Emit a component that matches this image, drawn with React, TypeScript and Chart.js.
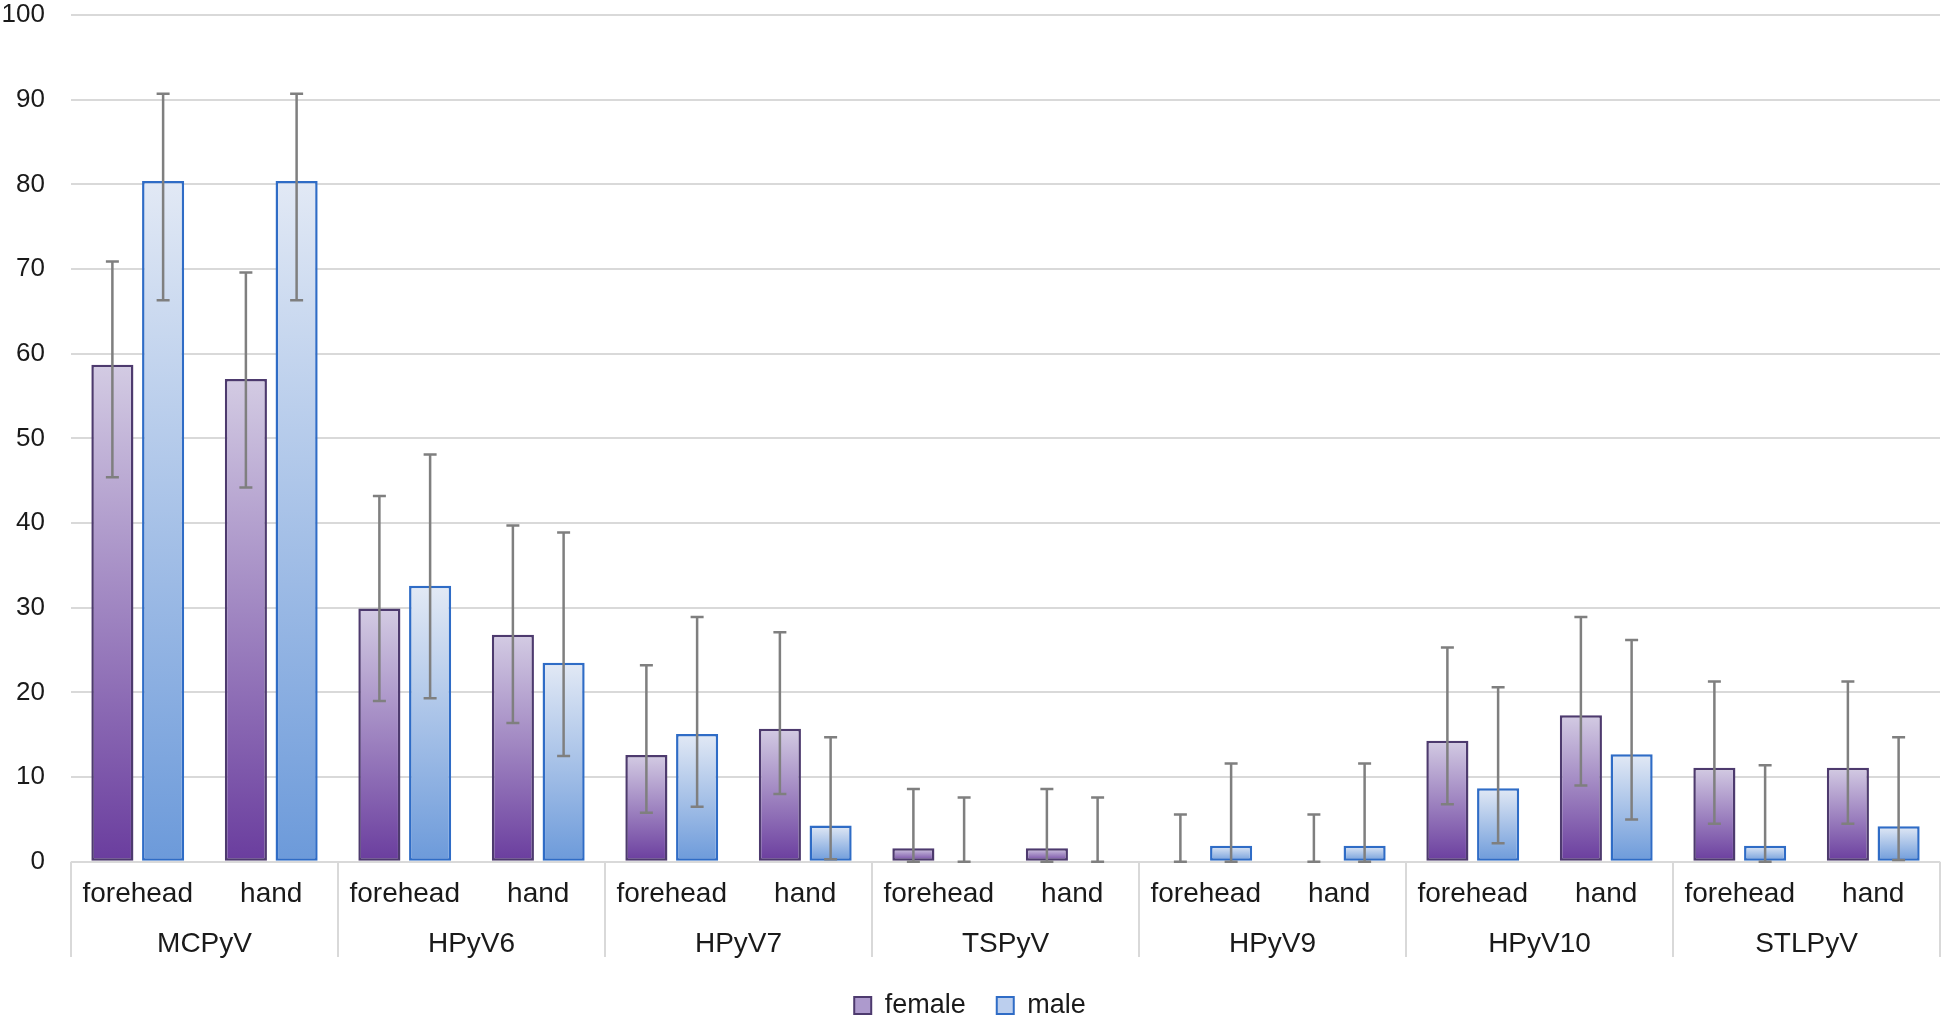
import { useEffect, useRef } from "react";
import { Chart, registerables } from "chart.js";

Chart.register(...registerables);

const groups = ["MCPyV", "HPyV6", "HPyV7", "TSPyV", "HPyV9", "HPyV10", "STLPyV"];
const sites = ["forehead", "hand"];
const categories = groups.flatMap(() => sites);

const female = [58.7, 57.0, 29.9, 26.8, 12.6, 15.7, 1.6, 1.6, 0, 0, 14.3, 17.3, 11.1, 11.1];
const femaleLow = [45.4, 44.2, 19.0, 16.4, 5.8, 8.0, 0, 0, 0, 0, 6.8, 9.0, 4.5, 4.5];
const femaleHigh = [70.9, 69.6, 43.2, 39.7, 23.2, 27.1, 8.6, 8.6, 5.6, 5.6, 25.3, 28.9, 21.3, 21.3];

const male = [80.4, 80.4, 32.6, 23.5, 15.1, 4.3, 0, 0, 1.9, 1.9, 8.7, 12.7, 1.9, 4.2];
const maleLow = [66.3, 66.3, 19.3, 12.5, 6.5, 0.3, 0, 0, 0, 0, 2.2, 5.0, 0, 0.2];
const maleHigh = [90.7, 90.7, 48.1, 38.9, 28.9, 14.7, 7.6, 7.6, 11.6, 11.6, 20.6, 26.2, 11.4, 14.7];

const errorRanges = [
    [femaleLow, femaleHigh],
    [maleLow, maleHigh],
];

const legendFills = ["#ad9acd", "#bccfee"];

// gradient per bar, dark at the base, light at the top
const barFill = (dark: string, light: string, flat: string) => (ctx: any) => {
    if (ctx.type !== "data") return flat;
    const chart = ctx.chart;
    const y = chart.scales.y;
    if (!y || !chart.chartArea) return flat;
    const y0 = y.getPixelForValue(0);
    const y1 = y.getPixelForValue(ctx.raw as number);
    if (!Number.isFinite(y0) || !Number.isFinite(y1)) return flat;
    if (Math.abs(y0 - y1) < 1) return dark;
    const g = chart.ctx.createLinearGradient(0, y0, 0, y1);
    g.addColorStop(0, dark);
    g.addColorStop(1, light);
    return g;
};

const barBorder = (ctx: any) => (ctx.type === "data" && ctx.raw === 0 ? 0 : 2.5);

const errorBars = {
    id: "errorBars",
    afterDatasetsDraw(chart: any) {
        const { ctx } = chart;
        const y = chart.scales.y;
        ctx.save();
        ctx.strokeStyle = "#7f7f7f";
        ctx.lineWidth = 2.5;
        errorRanges.forEach(([lows, highs], di) => {
            const meta = chart.getDatasetMeta(di);
            meta.data.forEach((bar: any, i: number) => {
                const x = bar.x;
                const top = y.getPixelForValue(highs[i]);
                const bot = y.getPixelForValue(lows[i]);
                ctx.beginPath();
                ctx.moveTo(x, top);
                ctx.lineTo(x, bot);
                ctx.moveTo(x - 6.5, top);
                ctx.lineTo(x + 6.5, top);
                ctx.moveTo(x - 6.5, bot);
                ctx.lineTo(x + 6.5, bot);
                ctx.stroke();
            });
        });
        ctx.restore();
    },
};

// vertical separators between the virus groups under the axis
const groupSeparators = {
    id: "groupSeparators",
    afterDraw(chart: any) {
        const { ctx, chartArea } = chart;
        const x2 = chart.scales.x2;
        const n = groups.length;
        ctx.save();
        ctx.strokeStyle = "#d9d9d9";
        ctx.lineWidth = 2;
        for (let k = 0; k <= n; k++) {
            const x = k === 0 ? x2.left : k === n ? x2.right : (x2.getPixelForValue(k - 1) + x2.getPixelForValue(k)) / 2;
            ctx.beginPath();
            ctx.moveTo(x, chartArea.bottom);
            ctx.lineTo(x, x2.bottom - 4);
            ctx.stroke();
        }
        ctx.restore();
    },
};

const App = () => {
    const chartRef = useRef<HTMLCanvasElement | null>(null);
    const chartInstanceRef = useRef<Chart | null>(null);

    useEffect(() => {
        document.body.style.margin = "0";
        if (!chartRef.current) return;
        const ctx = chartRef.current.getContext("2d");
        if (!ctx) return;
        if (chartInstanceRef.current) chartInstanceRef.current.destroy();

        Chart.defaults.font.family = "'Liberation Sans', Arial, sans-serif";
        Chart.defaults.font.size = 26;
        Chart.defaults.color = "#1a1a1a";

        chartInstanceRef.current = new Chart(ctx, {
            type: "bar",
            data: {
                labels: categories,
                datasets: [
                    {
                        label: "female",
                        data: female,
                        backgroundColor: barFill("#6a3d9e", "#d3cbe3", legendFills[0]),
                        borderColor: "#4d3a6e",
                        borderWidth: barBorder,
                        borderSkipped: false,
                        categoryPercentage: 0.76,
                        barPercentage: 0.83,
                    },
                    {
                        label: "male",
                        data: male,
                        backgroundColor: barFill("#6c9ada", "#e2e9f5", legendFills[1]),
                        borderColor: "#2f6cc6",
                        borderWidth: barBorder,
                        borderSkipped: false,
                        categoryPercentage: 0.76,
                        barPercentage: 0.83,
                    },
                ],
            },
            options: {
                responsive: true,
                maintainAspectRatio: false,
                animation: false,
                layout: {
                    padding: { top: 0, right: 13, bottom: -5, left: 0 },
                },
                plugins: {
                    legend: {
                        position: "bottom",
                        labels: {
                            boxWidth: 17,
                            boxHeight: 17,
                            padding: 31,
                            font: { size: 27 },
                            color: "#1a1a1a",
                            generateLabels: (chart: any) => {
                                const items = Chart.defaults.plugins.legend.labels.generateLabels(chart);
                                items.forEach((item: any, i: number) => {
                                    item.fillStyle = legendFills[i];
                                    item.lineWidth = 2;
                                });
                                return items;
                            },
                        },
                    },
                    tooltip: { enabled: false },
                },
                scales: {
                    x: {
                        type: "category",
                        position: "bottom",
                        weight: 0,
                        grid: { display: false, drawTicks: false },
                        border: { display: false },
                        ticks: { padding: 16, font: { size: 28 }, color: "#1a1a1a", maxRotation: 0, autoSkip: false },
                    },
                    x2: {
                        type: "category",
                        position: "bottom",
                        weight: 1,
                        labels: groups,
                        offset: true,
                        grid: { display: false, drawTicks: false },
                        border: { display: false },
                        ticks: { padding: 0, font: { size: 28 }, color: "#1a1a1a", maxRotation: 0, autoSkip: false },
                    },
                    y: {
                        min: 0,
                        max: 100,
                        afterFit: (scale: any) => {
                            scale.width = 71;
                            scale.paddingTop = 15;
                        },
                        ticks: { stepSize: 10, padding: 26, font: { size: 26 }, color: "#1a1a1a" },
                        grid: { color: "#d9d9d9", lineWidth: 2, drawTicks: false },
                        border: { display: false },
                    },
                },
            },
            plugins: [errorBars, groupSeparators],
        });

        return () => {
            if (chartInstanceRef.current) {
                chartInstanceRef.current.destroy();
                chartInstanceRef.current = null;
            }
        };
    }, []);

    return (
        <div style={{ position: "relative", width: "1953px", height: "1024px", background: "#ffffff" }}>
            <canvas ref={chartRef} />
        </div>
    );
};

export default App;
